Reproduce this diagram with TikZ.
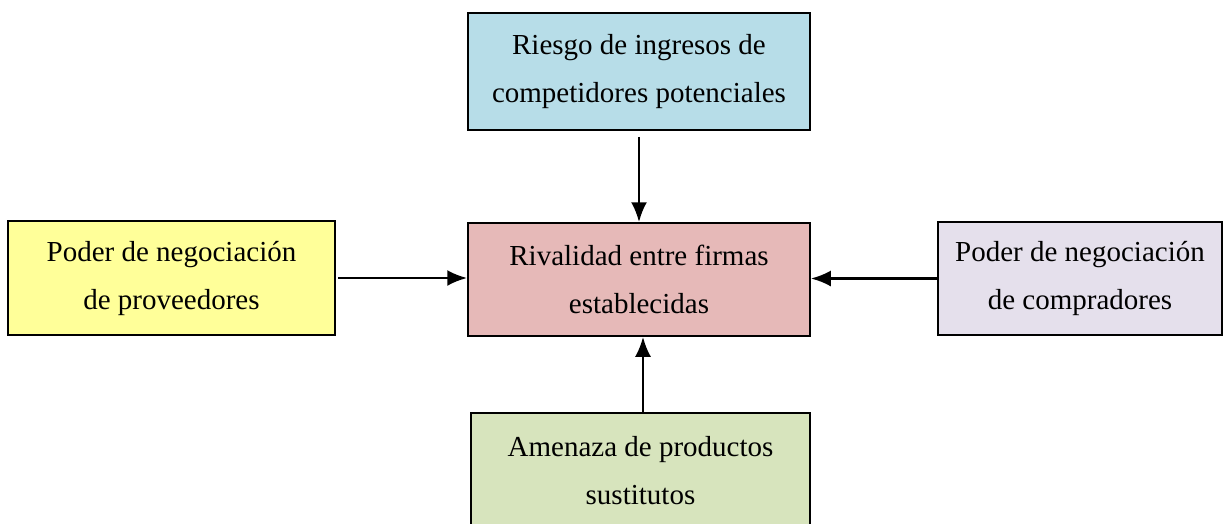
\documentclass[tikz,border=0pt]{standalone}
\usepackage{fontspec}
\setmainfont{Liberation Serif}
\usetikzlibrary{positioning, arrows.meta, calc}

\definecolor{azulclaro}{HTML}{B7DDE8}
\definecolor{rosaclaro}{HTML}{E6B9B8}
\definecolor{amarilloclaro}{HTML}{FFFF99}
\definecolor{lilaclaro}{HTML}{E5E0EC}
\definecolor{verdeclaro}{HTML}{D7E4BD}

\tikzset{
	fuerza/.style={draw, rectangle, line width=1.5pt, text centered, align=center,
		font=\fontsize{29}{48}\selectfont},
	flecha/.style={line width=2.8pt, -{Latex[length=20pt, width=16pt]}}
}

\begin{document}
\begin{tikzpicture}[x=1pt, y=-1pt]
			
			\useasboundingbox (0,0) rectangle (1224,523);
			\clip (0,0) rectangle (1224,523);
			
			%Blocks
			\node (Rivalidad) at (639,279.5) [fuerza, fill=rosaclaro, minimum width=342pt, 
			minimum height=113pt]{Rivalidad entre firmas\\establecidas};
			
			\node (Competidores) at (639,71.5) [fuerza, fill=azulclaro, minimum width=342pt, 
			minimum height=117pt]{Riesgo de ingresos de\\competidores potenciales};
			
			\node (Proveedores) at (171.5,278) [fuerza, fill=amarilloclaro, minimum width=327pt, 
			minimum height=114pt]{Poder de negociación\\de proveedores};
			
			\node (Compradores) at (1080,278.5) [fuerza, fill=lilaclaro, minimum width=284pt, 
			minimum height=113pt]{Poder de negociación\\de compradores};
			
			\node (Sustitutos) at (640.5,471) [fuerza, fill=verdeclaro, minimum width=339pt, 
			minimum height=116pt]{Amenaza de productos\\sustitutos};
			
			%Links
			\draw[flecha, shorten <=6pt] (Competidores) -- (Rivalidad);
			\draw[flecha, shorten <=2pt] (Proveedores.east) -- (Proveedores.east -| Rivalidad.west);
			\draw[flecha] (Compradores.west) -- (Compradores.west -| Rivalidad.east);
			\draw[flecha] ($(Sustitutos.north)+(2.5,0)$) coordinate (salida) -- (salida |- Rivalidad.south);
			
			\end{tikzpicture}
\end{document}
